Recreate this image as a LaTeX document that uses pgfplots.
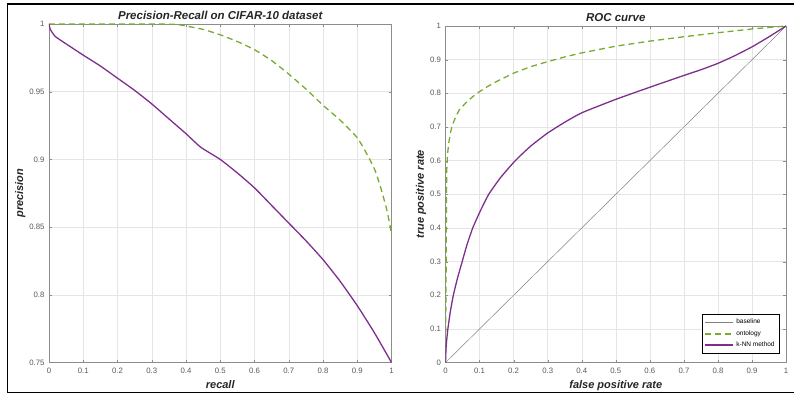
\documentclass[border=0pt]{standalone}
\usepackage{pgfplots}
\pgfplotsset{compat=1.18}
\usepackage{fontspec}
\setmainfont{Liberation Sans}
\definecolor{mpurple}{RGB}{126,47,142}
\definecolor{mgreen}{RGB}{119,172,48}
\begin{document}
\begin{tikzpicture}
\path (0pt,0pt) rectangle (795pt,396pt);
\draw[line width=1.8pt,black] (795pt,392pt) -- (7.5pt,392pt) -- (7.5pt,3pt) -- (795pt,3pt);
\pgfplotsset{
  mstyle/.style={
    scale only axis,
    anchor=origin,
    xmin=0,xmax=1,
    xtick={0,0.1,0.2,0.3,0.4,0.5,0.6,0.7,0.8,0.9,1},
    grid=major,
    grid style={black!10},
    axis line style={black!45},
    tick style={black!45},
    tick align=inside,
    major tick length=3pt,
    /pgf/number format/assume math mode=true,
    ticklabel style={font=\fontsize{7.8}{9}\selectfont, text=black!65},
    title style={font=\fontsize{11.5}{13}\selectfont\bfseries\itshape, text=black!85, yshift=-5pt},
    label style={font=\fontsize{11}{13}\selectfont\bfseries\itshape, text=black!85},
    xticklabel style={yshift=-2pt},
    yticklabel style={xshift=-1pt},
    xlabel style={yshift=0pt},
    ylabel style={yshift=-3pt},
  }
}
\begin{axis}[mstyle, at={(49pt,33pt)}, width=343pt, height=339pt,
  ymin=0.75, ymax=1,
  ytick={0.75,0.8,0.85,0.9,0.95,1},
  yticklabels={0.75,0.8,0.85,0.9,0.95,1},
  title={Precision-Recall on CIFAR-10 dataset},
  xlabel={recall}, ylabel={precision}]
\addplot[mgreen, line width=1.3pt, dash pattern=on 6pt off 4pt, smooth, tension=0.3] coordinates {
(0,1) (0.1,1) (0.2,1) (0.3,1) (0.37,0.9997) (0.4,0.9985) (0.45,0.996) (0.5,0.992) (0.55,0.987) (0.6,0.981) (0.65,0.973) (0.7,0.963) (0.75,0.952) (0.8,0.940) (0.85,0.929) (0.9,0.916) (0.93,0.903) (0.95,0.893) (0.965,0.882) (0.984,0.865) (0.995,0.852) (1,0.844)};
\addplot[mpurple, line width=1.3pt, smooth, tension=0.3] coordinates {
(0,1) (0.004,0.996) (0.0175,0.991) (0.04,0.987) (0.07,0.982) (0.1,0.977) (0.15,0.969) (0.2,0.960) (0.25,0.951) (0.3,0.941) (0.35,0.930) (0.4,0.919) (0.443,0.909) (0.5,0.900) (0.55,0.890) (0.6,0.879) (0.65,0.866) (0.7,0.853) (0.75,0.840) (0.8,0.826) (0.85,0.810) (0.9,0.792) (0.95,0.772) (1,0.75)};
\end{axis}
\begin{axis}[mstyle, at={(446pt,33pt)}, width=341pt, height=337pt,
  ymin=0, ymax=1,
  ytick={0,0.1,0.2,0.3,0.4,0.5,0.6,0.7,0.8,0.9,1},
  title={ROC curve},
  xlabel={false positive rate}, ylabel={true positive rate},
  legend style={at={(0.98,0.028)}, anchor=south east, font=\fontsize{6.5}{7.5}\selectfont, inner sep=2.5pt, row sep=1.5pt},
  legend cell align=left,
  legend image code/.code={\draw[#1] (0pt,0pt) -- (28pt,0pt);}]
\addlegendimage{color=black!50, line width=0.6pt}
\addlegendentry{baseline}
\addlegendimage{color=mgreen, line width=1.8pt, dash pattern=on 6pt off 4pt}
\addlegendentry{ontology}
\addlegendimage{color=mpurple, line width=1.8pt}
\addlegendentry{k-NN method}
\addplot[black!50, line width=0.5pt, forget plot] coordinates {(0,0) (1,1)};
\addplot[mgreen, line width=1.3pt, dash pattern=on 6pt off 4pt, forget plot] coordinates {
(0,0) (0.002,0.3) (0.003,0.5) (0.004,0.58) (0.006,0.62) (0.01,0.655) (0.015,0.685) (0.02,0.705) (0.03,0.73) (0.04,0.75) (0.06,0.772) (0.08,0.79) (0.1,0.805) (0.125,0.821) (0.15,0.835) (0.2,0.86) (0.25,0.879) (0.3,0.894) (0.35,0.908) (0.4,0.92) (0.45,0.93) (0.5,0.94) (0.6,0.955) (0.7,0.968) (0.8,0.98) (0.9,0.991) (1,1)};
\addplot[mpurple, line width=1.3pt, smooth, tension=0.3, forget plot] coordinates {
(0,0) (0.002,0.05) (0.007,0.1) (0.014,0.15) (0.023,0.2) (0.035,0.25) (0.049,0.3) (0.063,0.35) (0.08,0.4) (0.102,0.45) (0.127,0.5) (0.162,0.55) (0.205,0.6) (0.25,0.643) (0.3,0.682) (0.35,0.714) (0.4,0.742) (0.5,0.782) (0.6,0.818) (0.7,0.853) (0.75,0.870) (0.8,0.889) (0.85,0.912) (0.9,0.938) (0.95,0.968) (1,1)};
\end{axis}
\end{tikzpicture}
\end{document}
